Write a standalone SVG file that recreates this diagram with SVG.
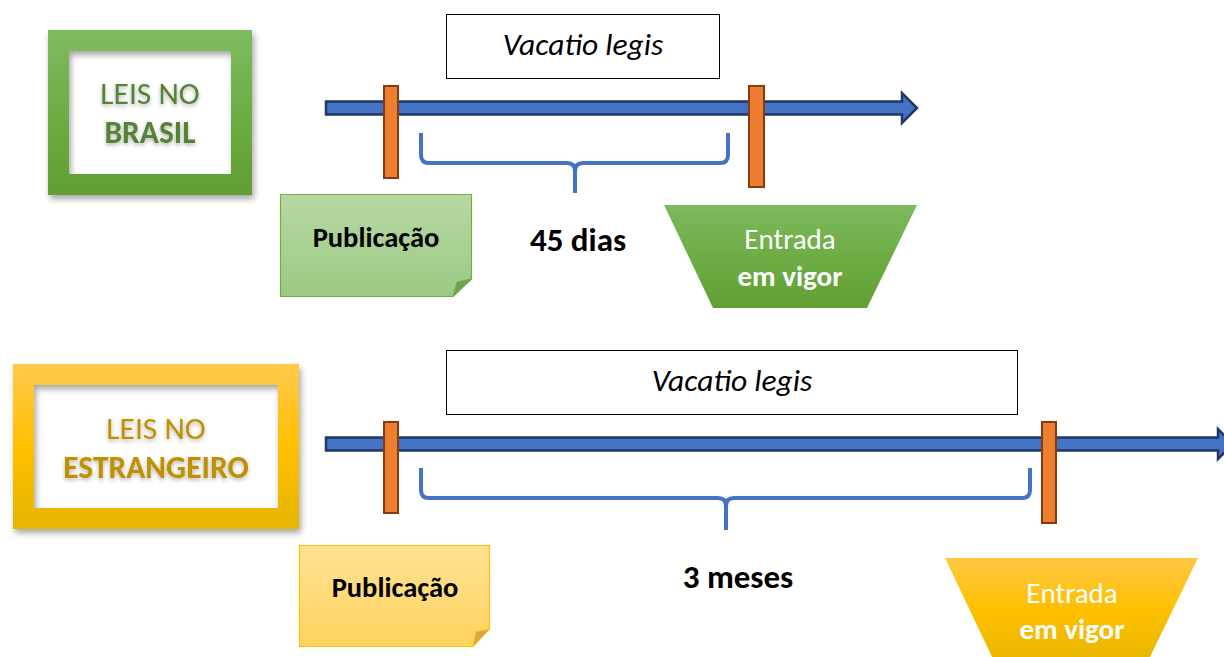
<svg xmlns="http://www.w3.org/2000/svg" width="1224" height="657" viewBox="0 0 1224 657">
<style>
.t{font-family:Carlito,"Liberation Sans",Arial,sans-serif}
.frameG{fill:none;stroke:url(#gG);stroke-width:21}
.frameY{fill:none;stroke:url(#gY);stroke-width:21}
.bar{fill:#4472C4;stroke:#203864;stroke-width:2.5;stroke-linejoin:miter}
.mark{fill:#ED7D31;stroke:#843C0C;stroke-width:2}
.brace{fill:none;stroke:#4472C4;stroke-width:4;stroke-linejoin:round;stroke-linecap:butt}
.vl{fill:#fff;stroke:#000;stroke-width:1}
.vlt{font-size:31.5px;font-style:italic;fill:#000;text-anchor:middle}
.big{font-size:31.5px;text-anchor:middle}
.lbl{font-size:28.5px;font-weight:bold;fill:#000;text-anchor:middle}
.num{font-size:33px;font-weight:bold;fill:#000;text-anchor:middle}
.ent{font-size:29px;fill:#fff;text-anchor:middle}
</style>
<defs>
<linearGradient id="gG" x1="0" y1="0" x2="0" y2="1"><stop offset="0" stop-color="#7DB95E"/><stop offset="0.5" stop-color="#6EAD45"/><stop offset="1" stop-color="#62A035"/></linearGradient>
<linearGradient id="gY" x1="0" y1="0" x2="0" y2="1"><stop offset="0" stop-color="#FFC845"/><stop offset="0.5" stop-color="#FFC000"/><stop offset="1" stop-color="#E8B600"/></linearGradient>
<linearGradient id="gPG" x1="0" y1="0" x2="0" y2="1"><stop offset="0" stop-color="#B7D8A3"/><stop offset="1" stop-color="#9CC983"/></linearGradient>
<linearGradient id="gPY" x1="0" y1="0" x2="0" y2="1"><stop offset="0" stop-color="#FFE294"/><stop offset="1" stop-color="#FFD35E"/></linearGradient>
<filter id="sh" x="-10%" y="-10%" width="125%" height="130%"><feDropShadow dx="2" dy="4" stdDeviation="3" flood-color="#000" flood-opacity="0.35"/></filter>
<filter id="tsh" x="-10%" y="-30%" width="120%" height="160%"><feDropShadow dx="0" dy="2" stdDeviation="2" flood-color="#000" flood-opacity="0.3"/></filter>
</defs>

<g id="leis-brasil">
<rect class="frameG" x="58.5" y="40.5" width="183" height="144" filter="url(#sh)"/>
<g filter="url(#tsh)">
<text class="t big" x="150" y="104" fill="#548235">LEIS NO</text>
<text class="t big" x="150" y="143" fill="#548235" font-weight="bold">BRASIL</text>
</g>
</g>

<g id="leis-estrangeiro">
<rect class="frameY" x="23.5" y="374.5" width="265" height="144" filter="url(#sh)"/>
<g filter="url(#tsh)">
<text class="t big" x="156" y="439" fill="#BF9000">LEIS NO</text>
<text class="t big" x="156" y="478" fill="#BF9000" font-weight="bold">ESTRANGEIRO</text>
</g>
</g>

<g id="connectors">
<path class="bar" d="M326,101.5 H902 V93 L917,108 L902,123 V114.5 H326 Z"/>
<path class="bar" d="M326,437.5 H1218 V429 L1233,444 L1218,459 V450.5 H326 Z"/>
<path class="brace" d="M421,133 V155 Q421,163 429,163 H567 Q575,163 575,171 V193 M575,171 Q575,163 583,163 H720 Q728,163 728,155 V133"/>
<path class="brace" d="M421,468 V490 Q421,498 429,498 H718 Q726,498 726,506 V530 M726,506 Q726,498 734,498 H1022 Q1030,498 1030,490 V468"/>
</g>

<g id="markers">
<rect class="mark" x="384" y="86" width="14" height="92"/>
<rect class="mark" x="749" y="86" width="15" height="101"/>
<rect class="mark" x="384" y="422" width="14" height="91"/>
<rect class="mark" x="1042" y="422" width="14" height="101"/>
</g>

<g id="vacatio-1">
<rect class="vl" x="446.5" y="14.5" width="273" height="64"/>
<text class="t vlt" x="583" y="55">Vacatio legis</text>
</g>
<g id="vacatio-2">
<rect class="vl" x="446.5" y="350.5" width="571" height="64"/>
<text class="t vlt" x="732" y="391">Vacatio legis</text>
</g>

<g id="publicacao-1">
<path d="M280.5,194.5 H471.5 V279 L453,296.5 H280.5 Z" fill="url(#gPG)" stroke="#70AD47" stroke-width="1.2"/>
<path d="M471.5,279 L457,282 L453,296.5 Z" fill="#6FA352" stroke="#70AD47" stroke-width="1"/>
<text class="t lbl" x="376" y="247">Publicação</text>
</g>
<g id="publicacao-2">
<path d="M299.5,545.5 H489.5 V629 L473,646.5 H299.5 Z" fill="url(#gPY)" stroke="#FFC000" stroke-width="1.2"/>
<path d="M489.5,629 L476,632 L473,646.5 Z" fill="#D4A74A" stroke="#FFC000" stroke-width="1"/>
<text class="t lbl" x="395" y="597">Publicação</text>
</g>

<g id="dias">
<text class="t num" x="578" y="251">45 dias</text>
</g>
<g id="meses">
<text class="t num" x="738" y="588">3 meses</text>
</g>

<g id="entrada-1">
<path d="M664,205 H917 L867,308 H713 Z" fill="url(#gG)"/>
<text class="t ent" x="790" y="249">Entrada</text>
<text class="t ent" x="790" y="286" font-weight="bold">em vigor</text>
</g>
<g id="entrada-2">
<path d="M945,558 H1198 L1148,661 H994 Z" fill="url(#gY)"/>
<text class="t ent" x="1072" y="603">Entrada</text>
<text class="t ent" x="1072" y="639" font-weight="bold">em vigor</text>
</g>
</svg>
